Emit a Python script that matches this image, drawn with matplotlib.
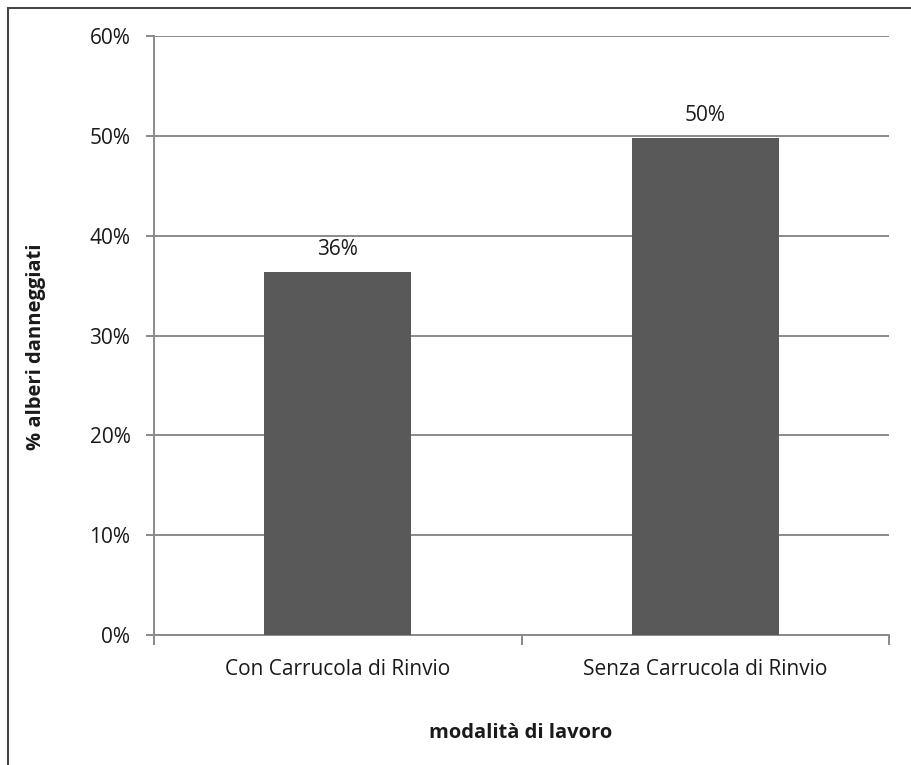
import matplotlib
matplotlib.use("Agg")
import matplotlib.pyplot as plt
from matplotlib.lines import Line2D
from matplotlib.ticker import PercentFormatter, FixedLocator, NullFormatter

categories = ["Con Carrucola di Rinvio", "Senza Carrucola di Rinvio"]
damaged_share = [0.364, 0.498]
y_ticks = [0.0, 0.1, 0.2, 0.3, 0.4, 0.5, 0.6]

plt.rcParams['font.family'] = ['Open Sans', 'DejaVu Sans']

W, H = 911, 765
fig = plt.figure(figsize=(W / 100, H / 100), dpi=100)
ax = fig.add_axes([154 / W, 1 - 635 / H, (889 - 154) / W, (635 - 36) / H])

grid_col = "#8a8a8a"
bar_col = "#595959"
text_col = "#1a1a1a"

x = list(range(len(categories)))
bars = ax.bar(x, damaged_share, width=0.4, color=bar_col, zorder=3)
for b, v in zip(bars, damaged_share):
    ax.annotate(f"{v:.0%}", (b.get_x() + b.get_width() / 2, v),
                xytext=(0, 22), textcoords="offset pixels",
                ha="center", va="center", fontsize=15, color=text_col)

ax.set_xlim(-0.5, len(categories) - 0.5)
ax.set_ylim(0, 0.6)
ax.set_yticks(y_ticks)
ax.yaxis.set_major_formatter(PercentFormatter(1.0, decimals=0))
ax.yaxis.grid(True, color=grid_col, linewidth=1.4, zorder=0)

# category labels centred, ticks on category boundaries
ax.set_xticks(x)
ax.set_xticklabels(categories, fontsize=15, color=text_col)
ax.tick_params(axis="x", which="major", length=0, pad=17)
ax.xaxis.set_minor_locator(FixedLocator([-0.5, 0.5, 1.5]))
ax.xaxis.set_minor_formatter(NullFormatter())
ax.tick_params(axis="x", which="minor", length=7, width=1.4, color=grid_col)
ax.tick_params(axis="y", length=6, width=1.4, color=grid_col,
               labelsize=15, labelcolor=text_col, pad=11)

for side in ("top", "right"):
    ax.spines[side].set_visible(False)
for side in ("left", "bottom"):
    ax.spines[side].set_color(grid_col)
    ax.spines[side].set_linewidth(1.4)

ax.set_ylabel("% alberi danneggiati", fontsize=14.5, fontweight="bold",
              color=text_col)
ax.yaxis.label.set_verticalalignment("center")
ax.yaxis.set_label_coords(36 / W, 1 - 347 / H, transform=fig.transFigure)
ax.set_xlabel("modalità di lavoro", fontsize=14.5, fontweight="bold",
              color=text_col)
ax.xaxis.label.set_verticalalignment("center")
ax.xaxis.set_label_coords(521 / W, 1 - 733 / H, transform=fig.transFigure)

# frame around the chart area (top and left edges)
fig.add_artist(Line2D([7.5 / W, 1.0], [1 - 8 / H, 1 - 8 / H],
                      transform=fig.transFigure, color="#222222", linewidth=1.2))
fig.add_artist(Line2D([7.5 / W, 7.5 / W], [0.0, 1 - 8 / H],
                      transform=fig.transFigure, color="#444444", linewidth=1.5))

fig.savefig("out.png", dpi=100, facecolor="white")
